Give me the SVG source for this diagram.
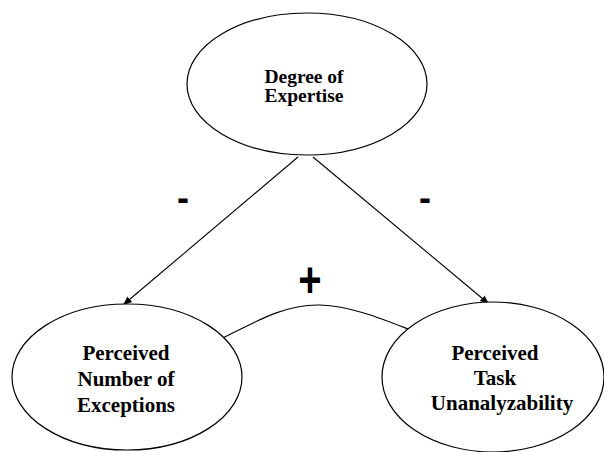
<svg xmlns="http://www.w3.org/2000/svg" width="604" height="452" viewBox="0 0 604 452">
  <style>
    .node { fill: #ffffff; stroke: #000000; stroke-width: 1.2; }
    .label { font-family: "Liberation Serif", "Times New Roman", serif; font-weight: bold; fill: #000000; text-anchor: middle; }
    .sign { font-family: "Liberation Sans", Arial, sans-serif; font-weight: bold; fill: #000000; text-anchor: middle; }
    .edge { fill: none; stroke: #000000; stroke-width: 1.1; }
  </style>
  <defs>
    <marker id="arrow" viewBox="0 0 10 10" refX="10" refY="5" markerWidth="9" markerHeight="9" markerUnits="userSpaceOnUse" orient="auto">
      <path d="M0,1 L10,5 L0,9 Z" fill="#000000"/>
    </marker>
  </defs>
  <rect width="604" height="452" fill="#ffffff"/>

  <g id="connectors">
    <line class="edge" x1="298" y1="157" x2="123" y2="305" marker-end="url(#arrow)"/>
    <line class="edge" x1="313" y1="157" x2="489" y2="304" marker-end="url(#arrow)"/>
    <path class="edge" d="M223,338 C255,322 285,304 320,305 C350,306 380,318 408,329"/>
    <text class="sign" x="183" y="210" font-size="36">-</text>
    <text class="sign" x="425" y="210" font-size="36">-</text>
    <text class="sign" font-size="40" transform="translate(310,297) scale(1,1.25)" x="0" y="0">+</text>
  </g>

  <g id="expertise">
    <ellipse class="node" cx="307" cy="84" rx="120" ry="71"/>
    <text class="label" font-size="19.5"><tspan x="304" y="83">Degree of</tspan><tspan x="304" y="102">Expertise</tspan></text>
  </g>

  <g id="exceptions">
    <ellipse class="node" cx="127" cy="377" rx="115" ry="73"/>
    <text class="label" font-size="21"><tspan x="126" y="360">Perceived</tspan><tspan x="126" y="386">Number of</tspan><tspan x="126" y="412">Exceptions</tspan></text>
  </g>

  <g id="unanalyzability">
    <ellipse class="node" cx="493" cy="377" rx="111" ry="75"/>
    <text class="label" font-size="21"><tspan x="495" y="360">Perceived</tspan><tspan x="495" y="385">Task</tspan><tspan x="502" y="410">Unanalyzability</tspan></text>
  </g>
</svg>
